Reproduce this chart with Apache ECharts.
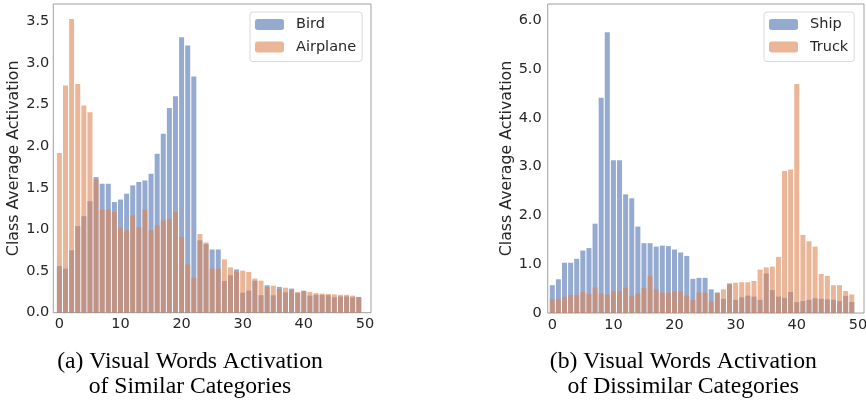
<!DOCTYPE html>
<html>
<head>
<meta charset="utf-8">
<script src="https://cdn.jsdelivr.net/npm/echarts@6/dist/echarts.min.js"></script>
<style>
html,body{margin:0;padding:0;background:#fff;}
#chart{width:866px;height:400px;}
</style>
</head>
<body>
<div id="chart"></div>
<script>
// ---- data ----
const wordIdx = [0,1,2,3,4,5,6,7,8,9,10,11,12,13,14,15,16,17,18,19,20,21,22,23,24,25,26,27,28,29,30,31,32,33,34,35,36,37,38,39,40,41,42,43,44,45,46,47,48,49];

const birdVals = [0.56,0.53,0.75,1.04,1.16,1.34,1.63,1.55,1.55,1.33,1.36,1.43,1.53,1.57,1.59,1.67,1.91,2.15,2.46,2.60,3.31,3.21,2.84,0.87,0.825,0.76,0.76,0.38,0.45,0.52,0.24,0.265,0.385,0.21,0.33,0.21,0.31,0.245,0.29,0.235,0.265,0.205,0.215,0.215,0.21,0.185,0.195,0.195,0.185,0.19];
const airplaneVals = [1.92,2.73,3.53,2.75,2.49,2.41,1.60,1.24,1.24,1.21,1.02,0.99,1.17,1.03,1.24,0.99,1.05,1.11,1.13,1.21,0.91,0.58,0.42,0.945,0.845,0.53,0.53,0.64,0.545,0.49,0.505,0.49,0.41,0.385,0.31,0.325,0.285,0.30,0.27,0.25,0.25,0.25,0.235,0.23,0.225,0.22,0.215,0.215,0.205,0.185];

const shipVals = [0.57,0.69,1.03,1.03,1.11,1.28,1.33,1.83,4.41,5.75,3.13,3.13,2.43,2.35,1.77,1.43,1.43,1.36,1.38,1.37,1.30,1.24,1.17,0.70,0.72,0.72,0.485,0.42,0.29,0.59,0.27,0.32,0.355,0.335,0.27,0.81,0.47,0.335,0.31,0.43,0.225,0.245,0.27,0.30,0.29,0.28,0.27,0.245,0.35,0.225];
const truckVals = [0.28,0.29,0.33,0.37,0.375,0.43,0.39,0.52,0.40,0.375,0.44,0.44,0.52,0.355,0.40,0.51,0.76,0.485,0.42,0.42,0.44,0.44,0.355,0.27,0.42,0.42,0.23,0.40,0.485,0.61,0.62,0.63,0.63,0.655,0.89,0.935,0.95,1.15,2.91,2.94,4.69,1.60,1.47,1.36,0.80,0.76,0.57,0.57,0.45,0.38];

const xTicks = [0,10,20,30,40,50];
const yTicksA = [0,0.5,1.0,1.5,2.0,2.5,3.0,3.5];
const yTicksB = [0,1,2,3,4,5,6];

const yTitle = 'Class Average Activation';
const captionA = ['(a) Visual Words Activation', 'of Similar Categories'];
const captionB = ['(b) Visual Words Activation', 'of Dissimilar Categories'];

// ---- styles ----
const BLUE = '#4C72B0', ORANGE = '#DD8452', TXT = '#262626', SPINE = '#a0a0a0';
const SANS = 'DejaVu Sans';
const SERIF = 'Liberation Serif';
const TICK_FS = 14.5, TITLE_FS = 15.8;

function pairs(vals){ return wordIdx.map((x,i)=>[x, vals[i]]); }

function xAxisDef(gi, mn, mx){
  return {
    type:'value', gridIndex:gi, min:mn, max:mx,
    axisLine:{show:false}, axisTick:{show:false}, splitLine:{show:false},
    axisLabel:{customValues:xTicks, fontFamily:SANS, fontSize:TICK_FS, color:TXT, margin:4.5}
  };
}
function yAxisDef(gi, mx, ticks, fmt, margin, gap){
  return {
    type:'value', gridIndex:gi, min:0, max:mx,
    axisLine:{show:false}, axisTick:{show:false}, splitLine:{show:false},
    axisLabel:{customValues:ticks, formatter:fmt, fontFamily:SANS, fontSize:TICK_FS, color:TXT, margin:margin},
    name:yTitle, nameLocation:'middle', nameGap:gap,
    nameTextStyle:{fontFamily:SANS, fontSize:TITLE_FS, color:TXT}
  };
}
function barDef(name, vals, color, gi){
  return {
    name:name, type:'bar', xAxisIndex:gi, yAxisIndex:gi,
    data:pairs(vals), barWidth:5, barGap:'-100%',
    itemStyle:{color:color, opacity:0.6},
    emphasis:{disabled:true}, animation:false
  };
}
function legendDef(names, left){
  return {
    data:names, orient:'vertical', left:left, top:12,
    itemWidth:29, itemHeight:11, itemGap:7.5,
    padding:[5,6,7,5],
    backgroundColor:'#fff', borderColor:'#d9d9d9', borderWidth:1, borderRadius:3,
    textStyle:{fontFamily:SANS, fontSize:TICK_FS, color:TXT, lineHeight:14, padding:[0,0,0,7]},
    selectedMode:false
  };
}
function captionDef(lines, cx){
  return lines.map((t,i)=>({
    type:'text', x:cx, y:[362,386.5][i],
    style:{text:t, fontFamily:SERIF, fontSize:23.7, fill:'#000', textAlign:'center', textVerticalAlign:'middle'}
  }));
}

const chart = echarts.init(document.getElementById('chart'), null, {renderer:'canvas'});
chart.setOption({
  animation:false,
  grid:[
    {left:53.3, top:4, width:317.7, height:308.7, show:true, borderColor:SPINE, borderWidth:1, backgroundColor:'transparent', containLabel:false, outerBoundsMode:'none'},
    {left:547.7, top:4, width:316.3, height:309, show:true, borderColor:SPINE, borderWidth:1, backgroundColor:'transparent', containLabel:false, outerBoundsMode:'none'}
  ],
  xAxis:[ xAxisDef(0,-1,51), xAxisDef(1,-0.75,51) ],
  yAxis:[
    yAxisDef(0, 3.71, yTicksA, v=>v.toFixed(1), 4, 28),
    yAxisDef(1, 6.33, yTicksB, v=>v===0?'0':v.toFixed(1), 6, 30)
  ],
  legend:[ legendDef(['Bird','Airplane'],250), legendDef(['Ship','Truck'],764) ],
  series:[
    barDef('Bird', birdVals, BLUE, 0),
    barDef('Airplane', airplaneVals, ORANGE, 0),
    barDef('Ship', shipVals, BLUE, 1),
    barDef('Truck', truckVals, ORANGE, 1)
  ],
  graphic: captionDef(captionA, 190).concat(captionDef(captionB, 683.3))
});
</script>
</body>
</html>
